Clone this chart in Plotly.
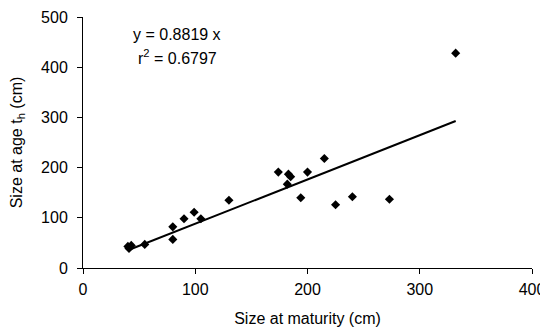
import plotly.graph_objects as go

size_at_maturity = [40, 43, 41, 55, 80, 80, 90, 99, 105, 130, 174, 183, 185, 182, 200, 215, 194, 225, 240, 273, 332]
size_at_age_th = [43, 45, 39, 47, 82, 57, 98, 111, 98, 135, 191, 187, 182, 167, 191, 218, 140, 126, 142, 137, 428]
slope = 0.8819
r2 = 0.6797

x_fit = [min(size_at_maturity), max(size_at_maturity)]
y_fit = [slope * v for v in x_fit]

font = dict(family="Liberation Sans, Arial, sans-serif", size=16, color="black")

fig = go.Figure()
fig.add_trace(go.Scatter(x=x_fit, y=y_fit, mode="lines",
                         line=dict(color="black", width=2), hoverinfo="skip"))
fig.add_trace(go.Scatter(x=size_at_maturity, y=size_at_age_th, mode="markers",
                         marker=dict(symbol="diamond", size=7, color="black")))

fig.add_annotation(x=0.21, y=0.93, xref="paper", yref="paper",
                   text=f"y = {slope} x", showarrow=False, font=font, xanchor="center", yanchor="middle")
fig.add_annotation(x=0.21, y=0.84, xref="paper", yref="paper",
                   text=f"r<sup>2</sup> = {r2}", showarrow=False, font=font, xanchor="center", yanchor="middle")

axis_common = dict(showgrid=False, zeroline=False, showline=True, linecolor="black",
                   linewidth=1, ticks="outside", ticklen=5, tickcolor="black",
                   tickfont=font, automargin=False)
fig.update_xaxes(range=[0, 400], dtick=100, ticklabelstandoff=2,
                 title=dict(text="Size at maturity (cm)", font=font, standoff=15),
                 **axis_common)
fig.update_yaxes(range=[0, 500], dtick=100, ticklabelstandoff=6,
                 title=dict(text="Size at age t<sub>h</sub> (cm)", font=font, standoff=14),
                 **axis_common)

fig.update_layout(width=540, height=320, showlegend=False,
                  plot_bgcolor="white", paper_bgcolor="white",
                  margin=dict(l=75, r=16, t=9, b=60), font=font)
fig.write_html("out.html")
